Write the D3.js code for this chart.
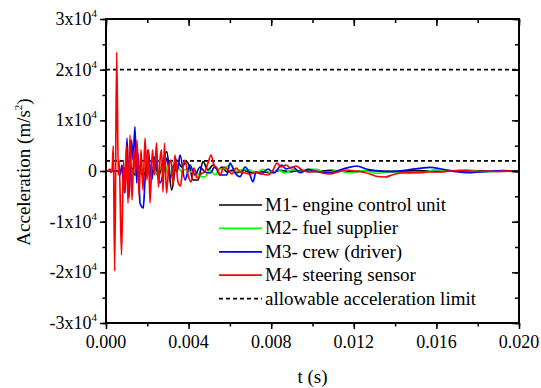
<!DOCTYPE html>
<html><head><meta charset="utf-8">
<script src="https://cdn.jsdelivr.net/npm/d3@7"></script>
</head>
<body style="margin:0;background:#fff">
<svg id="c" width="541" height="388"></svg>
<script>
// ---- data (t in s, acceleration in m/s^2) ----
const seriesNames = ["M1- engine control unit","M2- fuel supplier","M3- crew (driver)","M4- steering sensor"];
const seriesColors = ["#000000","#00ff00","#0000ff","#ff0000"];
const limitLabel = "allowable acceleration limit";
const limitValues = [20000, 2000];

const tM1 = [0,0.000678,0.000872,0.001017,0.001211,0.001404,0.001598,0.001792,0.001986,0.002179,0.002373,0.002518,0.002712,0.00294,0.003182,0.003424,0.003666,0.003908,0.004068,0.004213,0.004456,0.004698,0.00494,0.005182,0.005424,0.005618,0.00586,0.006102,0.006344,0.006635,0.006877,0.007216,0.007555,0.007942,0.008427,0.008911,0.009395,0.010122,0.010849,0.011817,0.012785,0.013754,0.014965,0.016176,0.017629,0.019081,0.02];
const aM1 = [0,0,590,-590,790,-790,990,-990,390,-790,1580,-1180,1180,3810,-3750,2170,790,1840,590,-1780,-1780,1840,200,1180,200,790,-200,140,-340,200,-140,-340,-140,-340,140,-140,60,-140,140,-140,60,-60,60,-60,60,-60,0];

const tM2 = [0,0.001404,0.001647,0.00184,0.002034,0.002228,0.002373,0.002518,0.002663,0.002857,0.003003,0.003148,0.003342,0.003666,0.003874,0.004117,0.00431,0.004552,0.004795,0.005037,0.005279,0.005521,0.005666,0.006005,0.006344,0.006635,0.006974,0.007265,0.007604,0.008025,0.00833,0.008669,0.009056,0.009395,0.009783,0.010204,0.010606,0.011187,0.011817,0.012446,0.013125,0.013754,0.014577,0.015352,0.016016,0.01666,0.017468,0.018258,0.019081,0.02];
const aM2 = [0,0,-590,590,-790,790,-390,-140,590,1180,-590,0,1840,-140,390,-200,200,-1130,-1130,200,-790,390,390,1180,-140,340,200,-390,340,-450,200,-390,340,-140,340,340,-340,60,-340,60,-450,-140,-450,-340,340,60,200,-140,0,-140];

const tM3 = [0,0.000581,0.000678,0.000775,0.000848,0.00092,0.001017,0.001114,0.001235,0.001308,0.001404,0.001487,0.00155,0.001647,0.001806,0.001889,0.002034,0.002213,0.002373,0.002615,0.002809,0.002954,0.0031,0.003293,0.003439,0.003584,0.003826,0.004068,0.00431,0.004552,0.004795,0.005037,0.005279,0.005521,0.005846,0.006005,0.006248,0.00649,0.006732,0.006925,0.007119,0.007265,0.007507,0.007846,0.008136,0.008509,0.008717,0.009056,0.009395,0.009783,0.010219,0.010849,0.011575,0.012141,0.01264,0.013125,0.013754,0.014577,0.015207,0.015691,0.016321,0.016984,0.017468,0.018258,0.019226,0.02];
const aM3 = [0,0,-790,1180,-2760,-4340,6510,-5330,6120,2170,8690,-2370,3550,-6320,-7300,-1780,4150,-1780,2820,-2370,200,2570,-1380,1180,-200,3160,-1780,1180,-790,790,-200,-390,850,-790,-790,1580,-390,-1130,790,-200,-2110,-200,-590,390,-390,1180,390,790,-340,340,-140,-340,530,990,340,60,-140,200,530,730,340,-140,-340,-140,60,-140];

const tM4 = [0,0.000097,0.000194,0.000242,0.000291,0.000354,0.000421,0.000518,0.000596,0.000639,0.000751,0.000848,0.00092,0.000993,0.001065,0.001162,0.001259,0.001356,0.001429,0.001501,0.001598,0.001695,0.001792,0.001889,0.001986,0.002058,0.002131,0.002252,0.002349,0.002446,0.002543,0.002615,0.002688,0.00276,0.002833,0.00293,0.003051,0.003148,0.003245,0.003342,0.003487,0.003608,0.003705,0.003826,0.003971,0.004117,0.004262,0.004407,0.004601,0.004795,0.00494,0.005085,0.00523,0.005376,0.005521,0.005715,0.005908,0.006102,0.006296,0.00649,0.006732,0.006974,0.007265,0.007555,0.007846,0.008088,0.008282,0.008475,0.008717,0.00896,0.009202,0.009492,0.009783,0.010122,0.010461,0.010849,0.011236,0.011623,0.012011,0.012398,0.012785,0.013125,0.013512,0.013851,0.014239,0.014723,0.015207,0.015691,0.016176,0.01666,0.017144,0.017483,0.017871,0.018355,0.018839,0.019323,0.02];
const aM4 = [0,0,390,-300,0,4940,-19740,23490,-790,2170,-16580,2170,-4150,4940,-6320,7110,-5720,4150,-790,6120,-4740,4150,-3750,6510,-1780,4150,-6320,4150,-790,5530,-3160,2170,4150,-4150,5530,-4340,1180,2170,-2760,3160,-2170,-2960,200,2170,-790,-2170,590,-1380,-590,0,1580,3160,1180,590,-790,790,200,-590,590,-200,-390,-590,-200,-590,-790,200,1580,790,1180,590,990,200,-200,0,-390,-590,-200,200,0,-200,-590,-1090,-1180,-790,-390,-300,-300,-200,-200,0,100,100,-100,0,-100,0,-100];

const xTickValues = [0,0.004,0.008,0.012,0.016,0.020];
const xTickLabels = ["0.000","0.004","0.008","0.012","0.016","0.020"];
const yTickValues = [-30000,-20000,-10000,0,10000,20000,30000];
const yTickMantissa = ["-3x10","-2x10","-1x10","0","1x10","2x10","3x10"];
const yTickExponent = ["4","4","4","","4","4","4"];
const xTitle = "t (s)";

const FONT = '"Liberation Serif"';

// ---- chart ----
const svg = d3.select("#c");
const L = 106, R = 519, T = 19, B = 323;
const x = d3.scaleLinear().domain([0, 0.02]).range([L, R]);
const y = d3.scaleLinear().domain([-30000, 30000]).range([B, T]);

svg.append("clipPath").attr("id","clp").append("rect")
  .attr("x", L).attr("y", T).attr("width", R-L).attr("height", B-T);

// limit lines
svg.append("g").selectAll("line").data(limitValues).join("line")
  .attr("x1", x(0)).attr("x2", x(0.02))
  .attr("y1", d => y(d)).attr("y2", d => y(d))
  .attr("stroke", "#000").attr("stroke-width", 1.6).attr("stroke-dasharray", "4,3");

const series = [[tM1,aM1],[tM2,aM2],[tM3,aM3],[tM4,aM4]];
const line = d3.line().x(d => x(d[0])).y(d => y(d[1])).curve(d3.curveMonotoneX);
const gl = svg.append("g").attr("clip-path","url(#clp)");
series.forEach((s, i) => {
  const pts = s[0].map((t, k) => [t, s[1][k]]);
  gl.append("path").attr("d", line(pts)).attr("fill","none")
    .attr("stroke", seriesColors[i]).attr("stroke-width", 1.7).attr("stroke-linejoin","round");
});

// axes (ticks only)
function styleAxis(g){
  g.select(".domain").remove();
  g.selectAll(".tick line").attr("stroke","#000").attr("stroke-width",1.5);
}
const xMinor = d3.range(0, 0.0201, 0.002);
const yMinor = d3.range(-30000, 30001, 5000);

svg.append("g").attr("transform",`translate(0,${B})`)
  .call(d3.axisBottom(x).tickValues(xMinor).tickSize(3.5).tickFormat("")).call(styleAxis);
svg.append("g").attr("transform",`translate(0,${B})`)
  .call(d3.axisBottom(x).tickValues(xTickValues).tickSize(6).tickFormat("")).call(styleAxis);
svg.append("g").attr("transform",`translate(0,${T})`)
  .call(d3.axisBottom(x).tickValues(xMinor).tickSize(4).tickFormat("")).call(styleAxis);
svg.append("g").attr("transform",`translate(0,${T})`)
  .call(d3.axisBottom(x).tickValues(xTickValues).tickSize(7).tickFormat("")).call(styleAxis);
svg.append("g").attr("transform",`translate(${L},0)`)
  .call(d3.axisLeft(y).tickValues(yMinor).tickSize(3.5).tickFormat("")).call(styleAxis);
svg.append("g").attr("transform",`translate(${L},0)`)
  .call(d3.axisLeft(y).tickValues(yTickValues).tickSize(6).tickFormat("")).call(styleAxis);
svg.append("g").attr("transform",`translate(${R},0)`)
  .call(d3.axisRight(y).tickValues(yMinor).tickSize(-4).tickFormat("")).call(styleAxis);
svg.append("g").attr("transform",`translate(${R},0)`)
  .call(d3.axisRight(y).tickValues(yTickValues).tickSize(-7).tickFormat("")).call(styleAxis);

// tick labels
xTickValues.forEach((d, i) => {
  svg.append("text").attr("x", x(d)).attr("y", B + 25).attr("text-anchor","middle")
    .attr("font-size", 18).style("font-family", FONT).text(xTickLabels[i]);
});
yTickValues.forEach((d, i) => {
  const t = svg.append("text").attr("x", L - 9).attr("y", y(d) + 6).attr("text-anchor","end")
    .attr("font-size", 18).style("font-family", FONT);
  t.append("tspan").text(yTickMantissa[i]);
  if (yTickExponent[i]) t.append("tspan").attr("font-size",11).attr("dy",-8).text(yTickExponent[i]);
});

// frame
svg.append("rect").attr("x",L).attr("y",T).attr("width",R-L).attr("height",B-T)
  .attr("fill","none").attr("stroke","#000").attr("stroke-width",2);

// titles
svg.append("text").attr("x", (L+R)/2).attr("y", 383).attr("text-anchor","middle")
  .attr("font-size",19).style("font-family", FONT).text(xTitle);
const yt = svg.append("text").attr("transform","translate(30,172) rotate(-90)")
  .attr("text-anchor","middle").attr("font-size",19).style("font-family", FONT);
yt.append("tspan").text("Acceleration (m/s");
yt.append("tspan").attr("font-size",11).attr("dy",-8).text("2");
yt.append("tspan").attr("dy",8).text(")");

// legend
const legRows = seriesNames.map((n,i) => ({name:n, color:seriesColors[i], dash:null}))
  .concat([{name:limitLabel, color:"#000", dash:"4,3"}]);
legRows.forEach((r, i) => {
  const yy = 205 + i * 23.4;
  svg.append("line").attr("x1",219).attr("x2",262).attr("y1",yy).attr("y2",yy)
    .attr("stroke", r.color).attr("stroke-width", r.dash ? 1.6 : 1.7)
    .attr("stroke-dasharray", r.dash);
  svg.append("text").attr("x", 265).attr("y", yy + 6)
    .attr("font-size", 19).style("font-family", FONT).text(r.name);
});
</script></body></html>
